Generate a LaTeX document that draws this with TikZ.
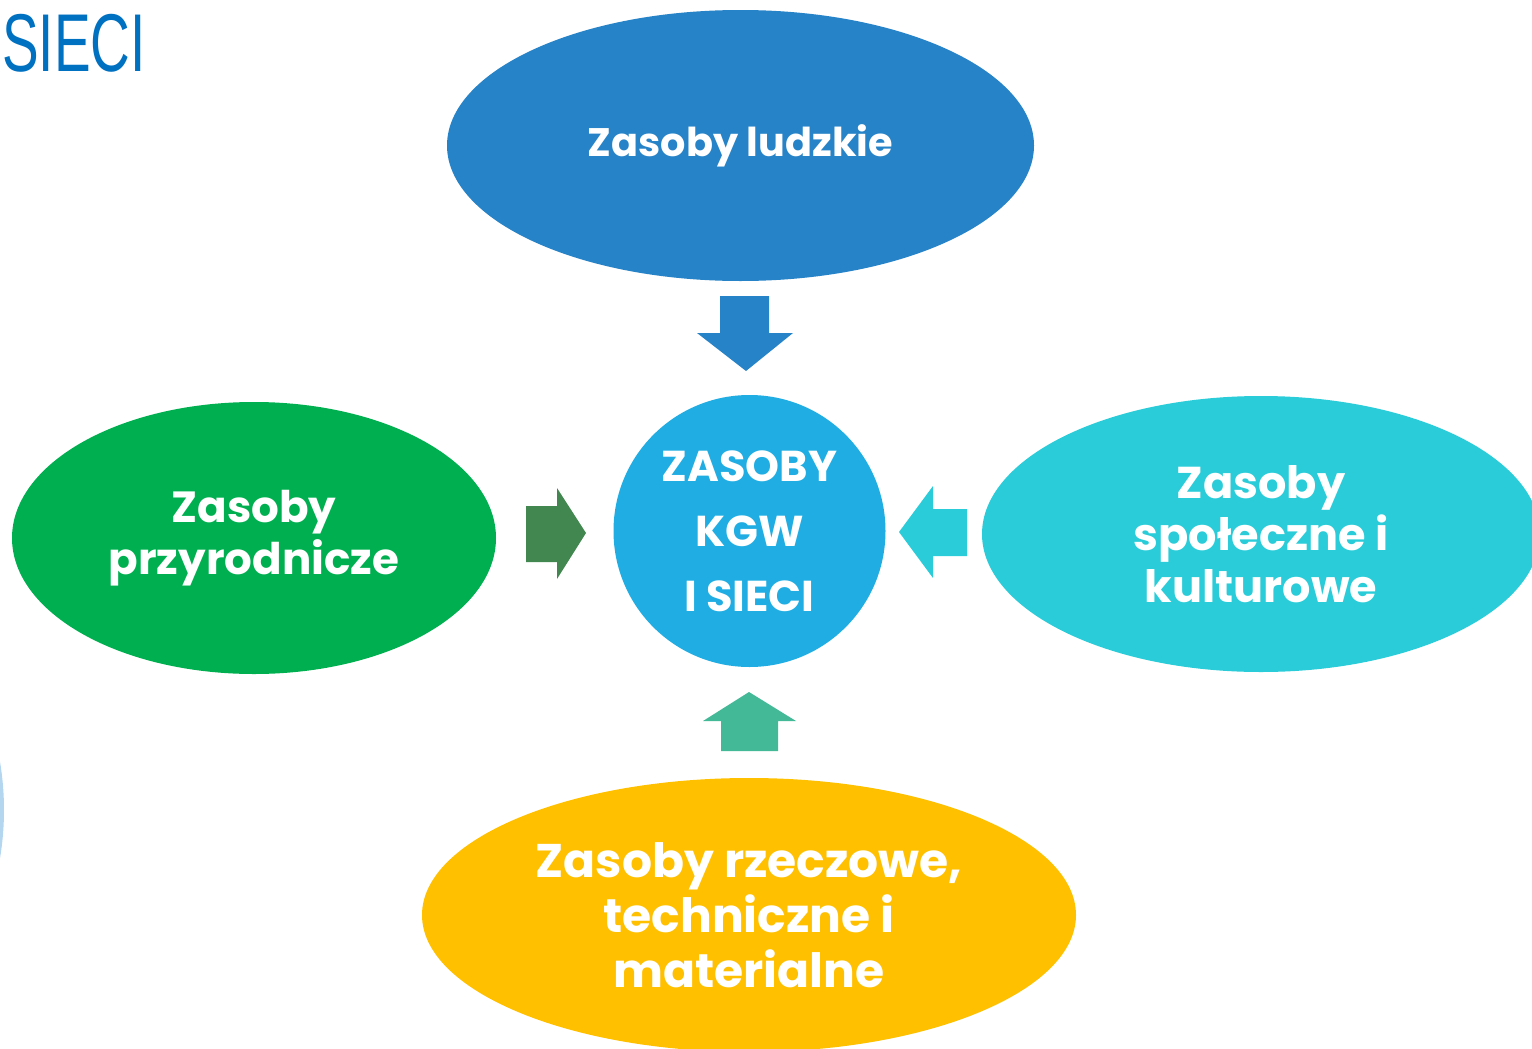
\documentclass[tikz,border=0pt]{standalone}
\usepackage{fontspec}
\usepackage{tikz}
\usetikzlibrary{shapes.geometric}
\setmainfont{Poppins}
\newfontfamily\titlefont{Liberation Sans}
\definecolor{ludzkie}{HTML}{2783C7}
\definecolor{przyroda}{HTML}{00B050}
\definecolor{spoleczne}{HTML}{29CCD8}
\definecolor{rzeczowe}{HTML}{FFC000}
\definecolor{srodek}{HTML}{1FADE3}
\definecolor{ciemnazielen}{HTML}{41874F}
\definecolor{morska}{HTML}{44B997}
\definecolor{jasny}{HTML}{B4D6EF}
\definecolor{tytul}{HTML}{0070C0}
\tikzset{
  zasob/.style={ellipse,inner sep=0pt,outer sep=0pt,text=white,align=center,font=\bfseries},
  rdzen/.style={circle,inner sep=0pt,outer sep=0pt,text=white,align=center,font=\bfseries}
}
\begin{document}
\begin{tikzpicture}[x=0.5pt,y=-0.5pt]
            \useasboundingbox (0,0) rectangle (1532,1049);
            \begin{scope}
            \clip (0,0) rectangle (1532,1049);
            \fill [jasny] (-286,810) circle (290);
            \node [zasob,fill=spoleczne,minimum width=279pt,minimum height=138pt,font=\fontsize{22.3}{26}\bfseries] (spol) at (1261,534) {Zasoby\\społeczne i\\kulturowe};
            \node [zasob,fill=rzeczowe,minimum width=327pt,minimum height=137pt,font=\fontsize{23.6}{27.5}\bfseries] (rzecz) at (749,915) {Zasoby rzeczowe,\\techniczne i\\materialne};
            \end{scope}
            \node [anchor=north west,inner sep=0pt,text=tytul,xscale=0.67] (tytul) at (2,14) {\titlefont\fontsize{41}{41}\selectfont SIECI};
            \node [zasob,fill=ludzkie,minimum width=293.5pt,minimum height=135.5pt,font=\fontsize{19.9}{22}\bfseries] (ludz) at (740.5,145.5) {Zasoby ludzkie};
            \node [zasob,fill=przyroda,minimum width=242pt,minimum height=136pt,font=\fontsize{21.8}{26}\bfseries] (przyr) at (254,538) {Zasoby\\przyrodnicze};
            \node [rdzen,fill=srodek,minimum size=136pt,font=\fontsize{21.6}{32.5}\bfseries] (kgw) at (749.5,531) {ZASOBY\\KGW\\I SIECI};
            % strzalki
            \fill [ludzkie] (720,296)--(769,296)--(769,333)--(793,333)--(746,371)--(697,333)--(720,333)--cycle;
            \fill [ciemnazielen] (526,506)--(557,506)--(557,488)--(586,533)--(557,579)--(557,562)--(526,562)--cycle;
            \fill [spoleczne] (967,509)--(933,509)--(933,486)--(899,532)--(933,578)--(933,556)--(967,556)--cycle;
            \fill [morska] (721,751)--(721,721)--(703,721)--(749,692)--(796,721)--(778,721)--(778,751)--cycle;
\end{tikzpicture}
\end{document}
